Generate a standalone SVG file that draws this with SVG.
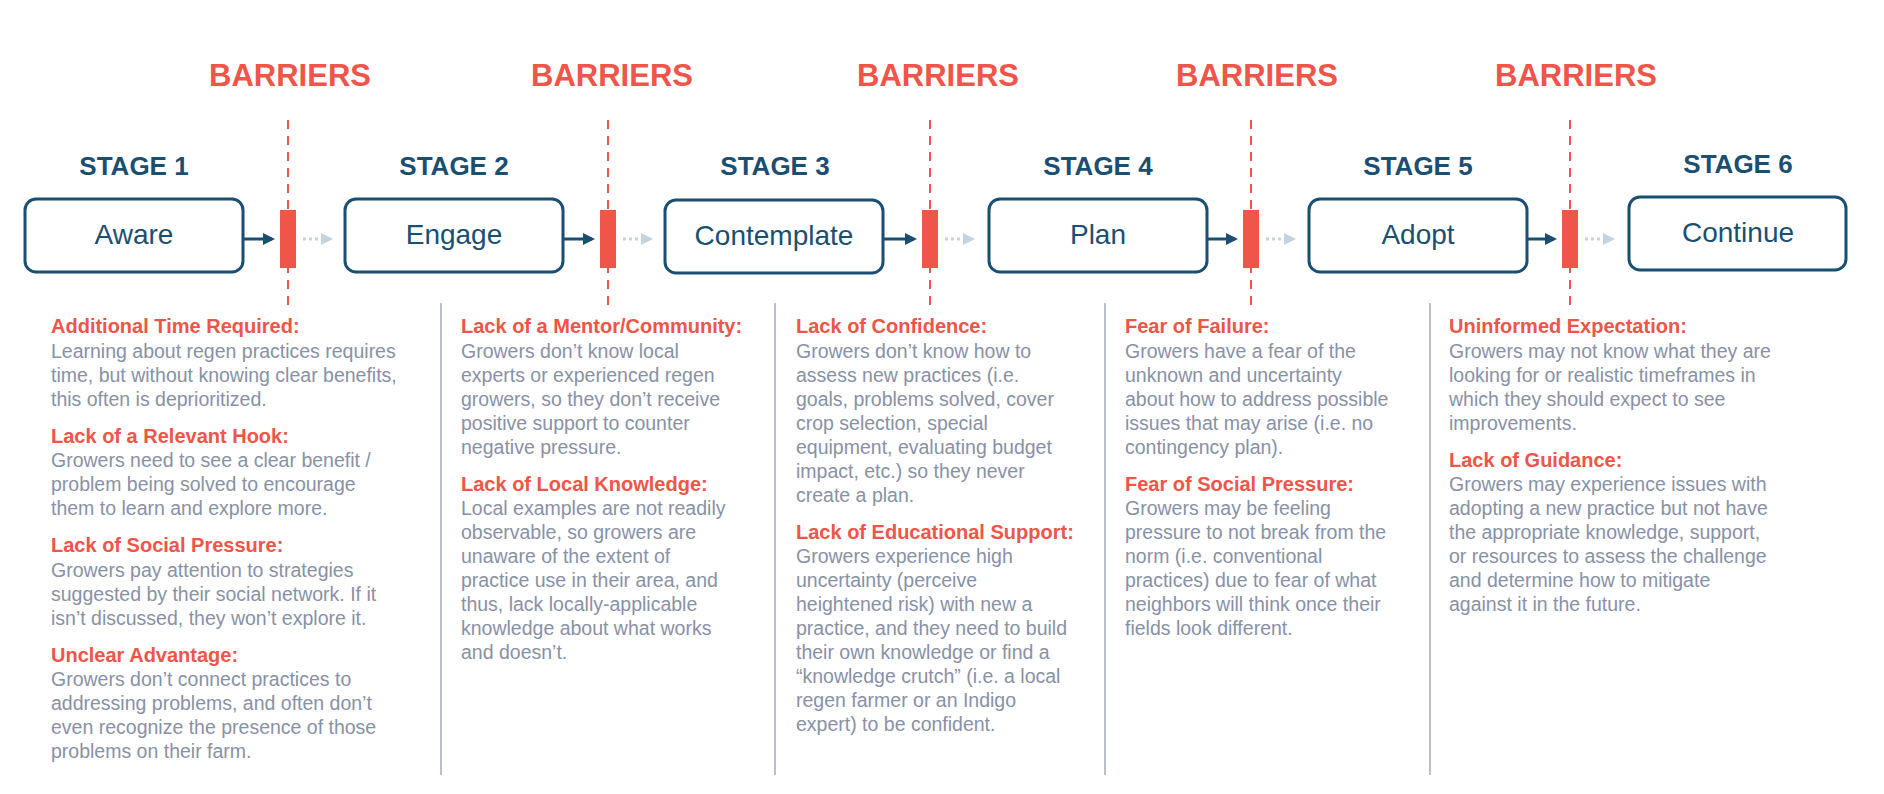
<svg xmlns="http://www.w3.org/2000/svg" width="1884" height="794" viewBox="0 0 1884 794">
<style>
.bar{font-family:"Liberation Sans",Arial,sans-serif;font-weight:bold;font-size:31px;fill:#ef5548;text-anchor:middle}
.stg{font-family:"Liberation Sans",Arial,sans-serif;font-weight:bold;font-size:26px;fill:#1b4f72;text-anchor:middle}
.box{fill:#fff;stroke:#1b4f72;stroke-width:3}
.lbl{font-family:"Liberation Sans",Arial,sans-serif;font-size:28px;fill:#1b4f72;text-anchor:middle}
.h{font-family:"Liberation Sans",Arial,sans-serif;font-weight:bold;font-size:20px;fill:#ef5548}
.b{font-family:"Liberation Sans",Arial,sans-serif;font-size:19.5px;fill:#8891a5}
.dash{stroke:#ef5548;stroke-width:2;stroke-dasharray:9,7}
.rb{fill:#ef5548}
.sep{stroke:#a3aab8;stroke-width:1.5}
.solid{stroke:#1b4f72;stroke-width:3;fill:none}
.dot{stroke:#c5d3e0;stroke-width:3;stroke-dasharray:3,3;fill:none}
</style>
<defs>
<marker id="ah" markerWidth="4" markerHeight="4" refX="3" refY="2" orient="auto" markerUnits="strokeWidth"><path d="M0,0 L4,2 L0,4 z" fill="#1b4f72"/></marker>
<marker id="al" markerWidth="4" markerHeight="4" refX="3" refY="2" orient="auto" markerUnits="strokeWidth"><path d="M0,0 L4,2 L0,4 z" fill="#c5d3e0"/></marker>
</defs>
<rect width="1884" height="794" fill="#fff"/>
<g id="barriers">
<text class="bar" x="290" y="86">BARRIERS</text>
<text class="bar" x="612" y="86">BARRIERS</text>
<text class="bar" x="938" y="86">BARRIERS</text>
<text class="bar" x="1257" y="86">BARRIERS</text>
<text class="bar" x="1576" y="86">BARRIERS</text>
<line class="dash" x1="288" y1="120" x2="288" y2="308"/>
<line class="dash" x1="608" y1="120" x2="608" y2="308"/>
<line class="dash" x1="930" y1="120" x2="930" y2="308"/>
<line class="dash" x1="1251" y1="120" x2="1251" y2="308"/>
<line class="dash" x1="1570" y1="120" x2="1570" y2="308"/>
<rect class="rb" x="280" y="210" width="16" height="58"/>
<rect class="rb" x="600" y="210" width="16" height="58"/>
<rect class="rb" x="922" y="210" width="16" height="58"/>
<rect class="rb" x="1243" y="210" width="16" height="58"/>
<rect class="rb" x="1562" y="210" width="16" height="58"/>
</g>
<g id="stage1"><text class="stg" x="134" y="175">STAGE 1</text><rect class="box" x="25" y="199" width="218" height="73" rx="11"/><text class="lbl" x="134" y="244">Aware</text></g>
<g id="stage2"><text class="stg" x="454" y="175">STAGE 2</text><rect class="box" x="345" y="199" width="218" height="73" rx="11"/><text class="lbl" x="454" y="244">Engage</text></g>
<g id="stage3"><text class="stg" x="775" y="175">STAGE 3</text><rect class="box" x="665" y="200" width="218" height="73" rx="11"/><text class="lbl" x="774" y="245">Contemplate</text></g>
<g id="stage4"><text class="stg" x="1098" y="175">STAGE 4</text><rect class="box" x="989" y="199" width="218" height="73" rx="11"/><text class="lbl" x="1098" y="244">Plan</text></g>
<g id="stage5"><text class="stg" x="1418" y="175">STAGE 5</text><rect class="box" x="1309" y="199" width="218" height="73" rx="11"/><text class="lbl" x="1418" y="244">Adopt</text></g>
<g id="stage6"><text class="stg" x="1738" y="173">STAGE 6</text><rect class="box" x="1629" y="197" width="217" height="73" rx="11"/><text class="lbl" x="1738" y="242">Continue</text></g>
<g id="connectors">
<line class="solid" x1="243" y1="239" x2="272" y2="239" marker-end="url(#ah)"/>
<line class="solid" x1="563" y1="239" x2="592" y2="239" marker-end="url(#ah)"/>
<line class="solid" x1="883" y1="239" x2="914" y2="239" marker-end="url(#ah)"/>
<line class="solid" x1="1207" y1="239" x2="1235" y2="239" marker-end="url(#ah)"/>
<line class="solid" x1="1527" y1="239" x2="1554" y2="239" marker-end="url(#ah)"/>
<line class="dot" x1="303" y1="239" x2="330" y2="239" marker-end="url(#al)"/>
<line class="dot" x1="623" y1="239" x2="650" y2="239" marker-end="url(#al)"/>
<line class="dot" x1="945" y1="239" x2="972" y2="239" marker-end="url(#al)"/>
<line class="dot" x1="1266" y1="239" x2="1293" y2="239" marker-end="url(#al)"/>
<line class="dot" x1="1585" y1="239" x2="1612" y2="239" marker-end="url(#al)"/>
</g>
<g id="separators">
<line class="sep" x1="441" y1="303" x2="441" y2="775"/>
<line class="sep" x1="775" y1="303" x2="775" y2="775"/>
<line class="sep" x1="1105" y1="303" x2="1105" y2="775"/>
<line class="sep" x1="1430" y1="303" x2="1430" y2="775"/>
</g>
<g id="col1">
<text class="h" x="51" y="333">Additional Time Required:</text>
<text class="b" x="51" y="358">Learning about regen practices requires</text>
<text class="b" x="51" y="382">time, but without knowing clear benefits,</text>
<text class="b" x="51" y="406">this often is deprioritized.</text>
<text class="h" x="51" y="443">Lack of a Relevant Hook:</text>
<text class="b" x="51" y="467">Growers need to see a clear benefit /</text>
<text class="b" x="51" y="491">problem being solved to encourage</text>
<text class="b" x="51" y="515">them to learn and explore more.</text>
<text class="h" x="51" y="552">Lack of Social Pressure:</text>
<text class="b" x="51" y="577">Growers pay attention to strategies</text>
<text class="b" x="51" y="601">suggested by their social network. If it</text>
<text class="b" x="51" y="625">isn’t discussed, they won’t explore it.</text>
<text class="h" x="51" y="662">Unclear Advantage:</text>
<text class="b" x="51" y="686">Growers don’t connect practices to</text>
<text class="b" x="51" y="710">addressing problems, and often don’t</text>
<text class="b" x="51" y="734">even recognize the presence of those</text>
<text class="b" x="51" y="758">problems on their farm.</text>
</g>
<g id="col2">
<text class="h" x="461" y="333">Lack of a Mentor/Community:</text>
<text class="b" x="461" y="358">Growers don’t know local</text>
<text class="b" x="461" y="382">experts or experienced regen</text>
<text class="b" x="461" y="406">growers, so they don’t receive</text>
<text class="b" x="461" y="430">positive support to counter</text>
<text class="b" x="461" y="454">negative pressure.</text>
<text class="h" x="461" y="491">Lack of Local Knowledge:</text>
<text class="b" x="461" y="515">Local examples are not readily</text>
<text class="b" x="461" y="539">observable, so growers are</text>
<text class="b" x="461" y="563">unaware of the extent of</text>
<text class="b" x="461" y="587">practice use in their area, and</text>
<text class="b" x="461" y="611">thus, lack locally-applicable</text>
<text class="b" x="461" y="635">knowledge about what works</text>
<text class="b" x="461" y="659">and doesn’t.</text>
</g>
<g id="col3">
<text class="h" x="796" y="333">Lack of Confidence:</text>
<text class="b" x="796" y="358">Growers don’t know how to</text>
<text class="b" x="796" y="382">assess new practices (i.e.</text>
<text class="b" x="796" y="406">goals, problems solved, cover</text>
<text class="b" x="796" y="430">crop selection, special</text>
<text class="b" x="796" y="454">equipment, evaluating budget</text>
<text class="b" x="796" y="478">impact, etc.) so they never</text>
<text class="b" x="796" y="502">create a plan.</text>
<text class="h" x="796" y="539">Lack of Educational Support:</text>
<text class="b" x="796" y="563">Growers experience high</text>
<text class="b" x="796" y="587">uncertainty (perceive</text>
<text class="b" x="796" y="611">heightened risk) with new a</text>
<text class="b" x="796" y="635">practice, and they need to build</text>
<text class="b" x="796" y="659">their own knowledge or find a</text>
<text class="b" x="796" y="683">“knowledge crutch” (i.e. a local</text>
<text class="b" x="796" y="707">regen farmer or an Indigo</text>
<text class="b" x="796" y="731">expert) to be confident.</text>
</g>
<g id="col4">
<text class="h" x="1125" y="333">Fear of Failure:</text>
<text class="b" x="1125" y="358">Growers have a fear of the</text>
<text class="b" x="1125" y="382">unknown and uncertainty</text>
<text class="b" x="1125" y="406">about how to address possible</text>
<text class="b" x="1125" y="430">issues that may arise (i.e. no</text>
<text class="b" x="1125" y="454">contingency plan).</text>
<text class="h" x="1125" y="491">Fear of Social Pressure:</text>
<text class="b" x="1125" y="515">Growers may be feeling</text>
<text class="b" x="1125" y="539">pressure to not break from the</text>
<text class="b" x="1125" y="563">norm (i.e. conventional</text>
<text class="b" x="1125" y="587">practices) due to fear of what</text>
<text class="b" x="1125" y="611">neighbors will think once their</text>
<text class="b" x="1125" y="635">fields look different.</text>
</g>
<g id="col5">
<text class="h" x="1449" y="333">Uninformed Expectation:</text>
<text class="b" x="1449" y="358">Growers may not know what they are</text>
<text class="b" x="1449" y="382">looking for or realistic timeframes in</text>
<text class="b" x="1449" y="406">which they should expect to see</text>
<text class="b" x="1449" y="430">improvements.</text>
<text class="h" x="1449" y="467">Lack of Guidance:</text>
<text class="b" x="1449" y="491">Growers may experience issues with</text>
<text class="b" x="1449" y="515">adopting a new practice but not have</text>
<text class="b" x="1449" y="539">the appropriate knowledge, support,</text>
<text class="b" x="1449" y="563">or resources to assess the challenge</text>
<text class="b" x="1449" y="587">and determine how to mitigate</text>
<text class="b" x="1449" y="611">against it in the future.</text>
</g>
</svg>
